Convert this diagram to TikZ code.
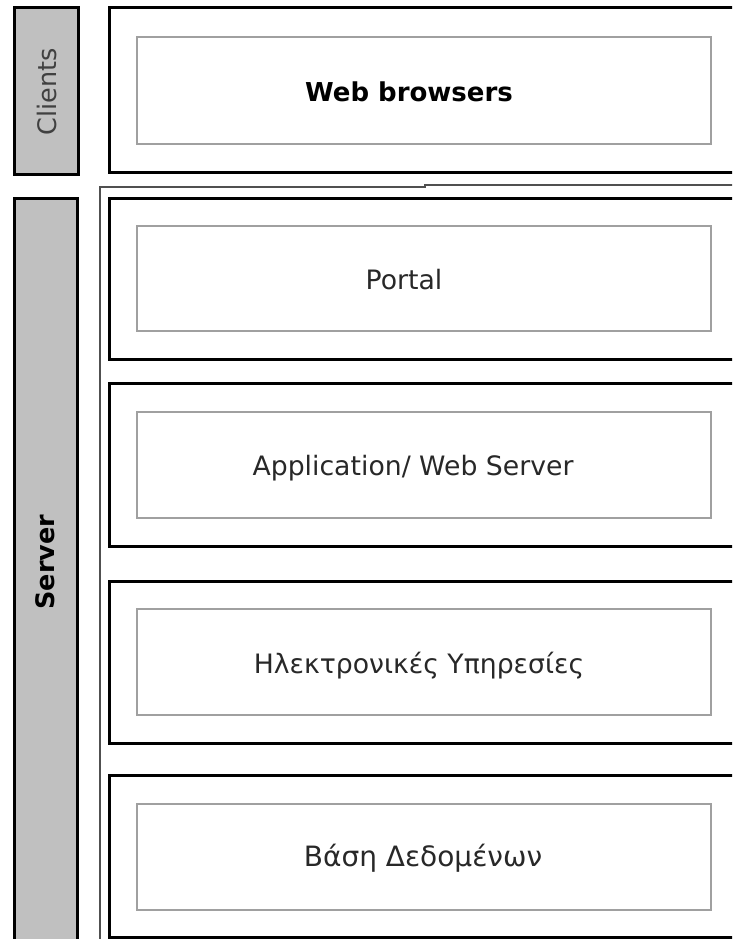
\documentclass[tikz,border=0pt]{standalone}
\usepackage{fontspec}
\setmainfont{DejaVu Sans}
\definecolor{barfill}{HTML}{C0C0C0}
\definecolor{innergray}{HTML}{A0A0A0}
\definecolor{grpline}{HTML}{505050}
\definecolor{txtgray}{HTML}{282828}
\definecolor{clgray}{HTML}{404040}
\tikzset{
  bar/.style={draw=black, line width=3pt, fill=barfill, inner sep=0pt},
  outerbox/.style={draw=black, line width=3pt, inner sep=0pt, minimum width=651pt},
  innerbox/.style={draw=innergray, line width=1.5pt, inner sep=0pt, minimum width=574pt},
  lbl/.style={font=\fontsize{26.7}{30}\selectfont, text=txtgray, anchor=base, inner sep=0pt},
  blbl/.style={font=\fontsize{26}{30}\selectfont\bfseries, text=black, anchor=base, inner sep=0pt},
}
\begin{document}
\begin{tikzpicture}[x=1pt,y=-1pt]
\useasboundingbox (0,0) rectangle (732,939);
\clip (0,0) rectangle (732,939);
% side bars
\node[bar, minimum width=64pt, minimum height=166pt] (clientsbar) at (46,91) {};
\node[font=\fontsize{25.5}{30}\selectfont, text=clgray, rotate=90, anchor=base, inner sep=0pt] (clientstxt) at (56,92) {Clients};
\node[bar, minimum width=63pt, minimum height=762pt] (serverbar) at (45.5,579) {};
\node[font=\fontsize{25.5}{30}\selectfont\bfseries, text=black, rotate=90, anchor=base, inner sep=0pt] (servertxt) at (54,562) {Server};
% server group line
\coordinate (gbot) at (100,960);
\coordinate (gtop) at (100,187);
\coordinate (gstep) at (425,187);
\coordinate (gstep2) at (425,185);
\coordinate (gend) at (760,185);
\draw[grpline, line width=1.5pt] (gbot) -- (gtop) -- (gstep) -- (gstep2) -- (gend);
% web browsers
\node[outerbox, minimum height=164pt] (wbout) at (434.5,90) {};
\node[innerbox, minimum height=107pt] (wbin) at (424,90.5) {};
\node[blbl] (wbtxt) at (409,101.5) {Web browsers};
% portal
\node[outerbox, minimum height=161pt] (poout) at (434.5,278.5) {};
\node[innerbox, minimum height=105pt] (poin) at (424,278.5) {};
\node[lbl] (potxt) at (404,289) {Portal};
% application
\node[outerbox, minimum height=163pt] (apout) at (434.5,464.5) {};
\node[innerbox, minimum height=106pt] (apin) at (424,465) {};
\node[lbl] (aptxt) at (413,475) {Application/ Web Server};
% e-services
\node[outerbox, minimum height=162pt] (esout) at (434.5,662) {};
\node[innerbox, minimum height=106pt] (esin) at (424,662) {};
\node[lbl] (estxt) at (419,673) {Ηλεκτρονικές Υπηρεσίες};
% database
\node[outerbox, minimum height=162pt] (dbout) at (434.5,856) {};
\node[innerbox, minimum height=106pt] (dbin) at (424,857) {};
\node[lbl, font=\fontsize{28}{32}\selectfont] (dbtxt) at (423,866) {Βάση Δεδομένων};
\end{tikzpicture}
\end{document}
